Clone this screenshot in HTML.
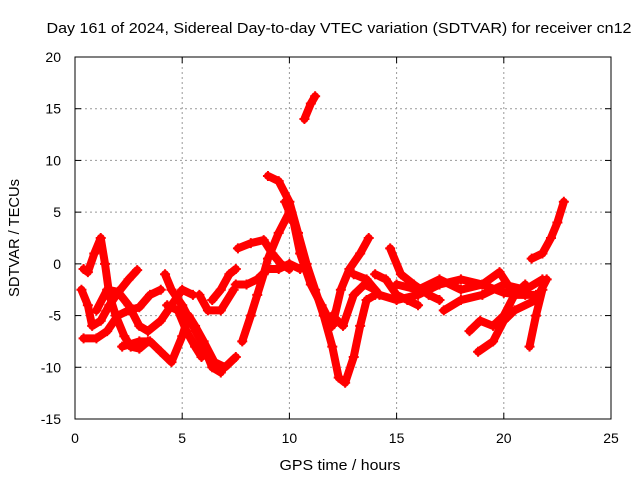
<!DOCTYPE html>
<html><head><meta charset="utf-8"><style>
body{margin:0;background:#fff}
svg{display:block;font-family:"Liberation Sans",sans-serif}
</style></head><body>
<svg id="chart" width="640" height="480" viewBox="0 0 640 480">
<text x="339" y="33" font-size="15" text-anchor="middle" textLength="585" lengthAdjust="spacingAndGlyphs" fill="#000">Day 161 of 2024, Sidereal Day-to-day VTEC variation (SDTVAR) for receiver cn12</text>
<text x="340" y="470" font-size="15" text-anchor="middle" textLength="121" lengthAdjust="spacingAndGlyphs">GPS time / hours</text>
<text transform="translate(19,238) rotate(-90)" font-size="15" text-anchor="middle" textLength="118" lengthAdjust="spacingAndGlyphs">SDTVAR / TECUs</text>
<g id="grid"></g>
<g id="ticks"></g>
<g id="series"></g>
<rect x="75" y="57" width="536" height="362" fill="none" stroke="#000" stroke-width="1"/>
</svg>
<script>
const xTicks=[0,5,10,15,20,25];
const yTicks=[-15,-10,-5,0,5,10,15,20];
const trackA=[[0.4,-0.5],[0.6,-0.8],[0.9,1],[1.2,2.5],[1.4,0],[1.6,-3],[1.9,-5],[2.3,-7],[2.6,-8],[3.0,-8.2],[3.4,-7.5]];
const trackB=[[0.3,-2.5],[0.6,-4],[0.8,-6],[1.2,-5.5],[1.6,-4],[2,-2.8],[2.5,-1.5],[2.9,-0.6]];
const trackC=[[0.4,-7.2],[1.0,-7.2],[1.5,-6.5],[2.0,-5],[2.5,-4.5],[3.0,-4.2],[3.5,-3],[4.0,-2.5]];
const trackD=[[1.0,-4.5],[1.5,-2.5],[2.0,-2.7],[2.5,-4],[3.0,-6],[3.4,-6.5],[4.0,-5.5],[4.5,-4],[5.0,-2.5],[5.5,-3]];
const trackE=[[2.2,-8],[3,-7.5],[3.5,-7.5],[4,-8.5],[4.5,-9.5],[5,-7],[5.3,-5],[5.6,-6],[6,-7.5],[6.5,-9.5],[7,-10],[7.5,-9]];
const trackF=[[4.2,-1],[4.5,-2.5],[5.0,-4],[5.5,-6],[6,-8],[6.4,-10],[6.8,-10.5]];
const trackG=[[4.3,-4],[4.8,-4.5],[5.2,-6.5],[5.6,-8],[5.9,-9]];
const trackH=[[5.8,-3],[6.2,-4.5],[6.8,-4.5],[7.4,-2.5]];
const trackI=[[6.4,-3.5],[6.8,-2.5],[7.2,-1],[7.5,-0.5]];
const trackJ=[[7.8,-7.5],[8.2,-5],[8.5,-3],[8.8,-1],[9,0.5],[9.5,3],[10,5]];
const trackK=[[7.5,-2],[8,-2],[8.5,-1.5],[9,-0.5],[9.5,-0.5],[10,0],[10.5,-0.5]];
const trackL=[[7.6,1.5],[8.2,2],[8.8,2.3],[9.2,1],[9.6,0],[10,-0.5]];
const trackM=[[9,8.5],[9.5,8],[10,6],[10.4,3],[10.8,0],[11.2,-2.5],[11.6,-5],[12,-8],[12.3,-11],[12.6,-11.5],[13,-9],[13.3,-6],[13.6,-3.5],[14,-3]];
const trackN=[[9.8,6],[10.2,4],[10.5,1],[11,-2],[11.5,-4],[12,-6],[12.4,-2.5],[12.8,-0.5],[13.3,1],[13.7,2.5]];
const trackO=[[14,-1],[14.5,-1.5],[15,-3],[15.5,-3.5],[16,-4]];
const trackP=[[14.7,1.5],[15.2,-1],[15.8,-2],[16.5,-3],[17,-3.5]];
const trackQ=[[13,-1],[13.6,-1.5],[14.2,-3],[15,-3.5],[16,-3],[17,-2],[18,-1.5],[19,-2],[20,-2.8],[21,-3]];
const trackR=[[15,-2],[16,-2.5],[17,-1.5],[18,-2.5],[19,-2],[19.8,-0.8],[20.5,-3],[21.5,-3]];
const trackS=[[17.2,-4.5],[18,-3.5],[19,-3],[20,-2],[21,-2.5],[21.8,-1.5]];
const trackT=[[18.4,-6.5],[18.9,-5.5],[19.5,-6],[20,-5],[20.5,-3],[21,-2]];
const trackU=[[18.8,-8.5],[19.5,-7.5],[20,-5.5],[20.5,-4.5],[21.5,-3.5],[22,-1.5]];
const trackV=[[21.2,-8],[21.5,-5],[21.8,-2.5]];
const trackW=[[21.3,0.5],[21.8,1],[22.2,2.5],[22.5,4],[22.8,6]];
const trackX=[[10.7,14],[11,15.5],[11.2,16.2]];
const trackY=[[12,-5],[12.5,-6],[13,-3],[13.5,-2],[14,-2.5]];
const tracks=[trackA,trackB,trackC,trackD,trackE,trackF,trackG,trackH,trackI,trackJ,trackK,trackL,trackM,trackN,trackO,trackP,trackQ,trackR,trackS,trackT,trackU,trackV,trackW,trackX,trackY];

const NS="http://www.w3.org/2000/svg";
const L=75,R=611,T=57,B=419;
const sx=v=>L+(v-0)/(25-0)*(R-L);
const sy=v=>B-(v+15)/(35)*(B-T);
const grid=document.getElementById('grid'),ticks=document.getElementById('ticks'),series=document.getElementById('series');
function mk(tag,attrs,parent){const e=document.createElementNS(NS,tag);for(const k in attrs)e.setAttribute(k,attrs[k]);parent.appendChild(e);return e;}
xTicks.forEach(t=>{
  const x=sx(t);
  if(t>0&&t<25){const g=mk('line',{x1:x,x2:x,y1:T,y2:B,stroke:'#999','stroke-dasharray':'2,3'},grid);
  
  }
  mk('line',{x1:x,x2:x,y1:B,y2:B-6,stroke:'#000'},ticks);
  mk('line',{x1:x,x2:x,y1:T,y2:T+6,stroke:'#000'},ticks);
  const tx=mk('text',{x:x,y:B+24,'font-size':14,'text-anchor':'middle'},ticks);
  tx.textContent=t;
  
  
});
yTicks.forEach(t=>{
  const y=sy(t);
  if(t>-15&&t<20){const g=mk('line',{x1:L,x2:R,y1:y,y2:y,stroke:'#999','stroke-dasharray':'2,3'},grid);
  
  }
  mk('line',{x1:L,x2:L+6,y1:y,y2:y,stroke:'#000'},ticks);
  mk('line',{x1:R,x2:R-6,y1:y,y2:y,stroke:'#000'},ticks);
  const tx=mk('text',{x:L-14,y:y+5,'font-size':14,'text-anchor':'end'},ticks);
  tx.textContent=t;
  
  
});
tracks.forEach(tr=>{
  const pts=tr.map(p=>sx(p[0])+','+sy(p[1])).join(' ');
  const pl=mk('polyline',{points:pts,fill:'none',stroke:'#f00','stroke-width':8,'stroke-linejoin':'round','stroke-linecap':'round'},series);
  
  
  tr.forEach(p=>{
    const x=sx(p[0]),y=sy(p[1]);
    const m=mk('path',{d:`M${x-5},${y}H${x+5}M${x},${y-5}V${y+5}`,stroke:'#f00','stroke-width':2},series);
    
    
  });
});
</script>
</body></html>
